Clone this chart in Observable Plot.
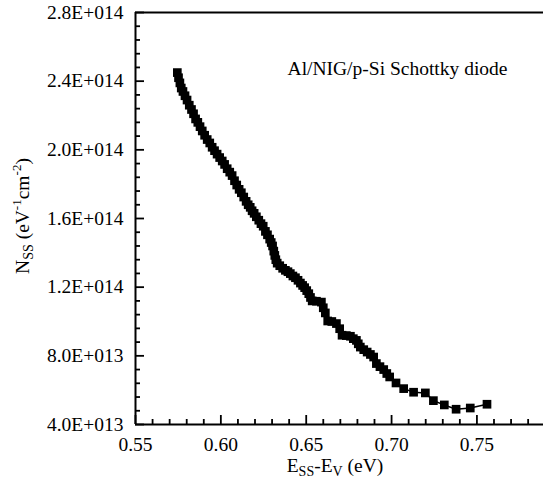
<!DOCTYPE html>
<html>
<head>
<meta charset="utf-8">
<script src="https://cdn.jsdelivr.net/npm/d3@7"></script>
<script src="https://cdn.jsdelivr.net/npm/@observablehq/plot@0.6"></script>
<style>
  body { margin: 0; background: #fff; }
  #chart svg { display: block; }
  #chart svg text { font-family: 'Liberation Serif', 'Times New Roman', serif; }
</style>
</head>
<body>
<div id="chart"></div>
<script>
// Energy E_SS - E_V (eV)
const energy = [
  0.5745, 0.5752, 0.5760, 0.5768, 0.5778, 0.5790, 0.5802, 0.5815, 0.5828, 0.5840,
  0.5852, 0.5865, 0.5878, 0.5891, 0.5905, 0.5920, 0.5935, 0.5949, 0.5963, 0.5978,
  0.5993, 0.6008, 0.6022, 0.6037, 0.6052, 0.6066, 0.6080, 0.6093, 0.6107, 0.6120,
  0.6134, 0.6148, 0.6160, 0.6172, 0.6183, 0.6195, 0.6208, 0.6222, 0.6235, 0.6248,
  0.6261, 0.6273, 0.6286, 0.6295, 0.6303, 0.6310, 0.6316, 0.6322, 0.6330, 0.6345,
  0.6362, 0.6378, 0.6393, 0.6407, 0.6422, 0.6437, 0.6452, 0.6466, 0.6479, 0.6491,
  0.6503, 0.6515, 0.6525, 0.6535, 0.6560, 0.6589, 0.6600, 0.6612, 0.6626, 0.6650,
  0.6677, 0.6696, 0.6710, 0.6735, 0.6759, 0.6776, 0.6794, 0.6805, 0.6817, 0.6837,
  0.6857, 0.6876, 0.6895, 0.6911, 0.6932, 0.6954, 0.6972, 0.6989, 0.7026, 0.7071,
  0.7129, 0.7198, 0.7245, 0.7309, 0.7378, 0.7461, 0.7559
];
// Interface state density N_SS (eV^-1 cm^-2), in units of 1e14
const nssE14 = [
  2.450, 2.420, 2.390, 2.360, 2.340, 2.315, 2.290, 2.260, 2.235, 2.210,
  2.180, 2.160, 2.135, 2.110, 2.085, 2.060, 2.040, 2.015, 1.995, 1.975,
  1.955, 1.935, 1.915, 1.890, 1.870, 1.850, 1.820, 1.795, 1.770, 1.750,
  1.725, 1.700, 1.680, 1.665, 1.645, 1.630, 1.610, 1.590, 1.570, 1.555,
  1.525, 1.505, 1.480, 1.460, 1.440, 1.410, 1.385, 1.360, 1.340, 1.325,
  1.310, 1.298, 1.290, 1.279, 1.265, 1.255, 1.240, 1.224, 1.210, 1.197,
  1.180, 1.162, 1.140, 1.120, 1.118, 1.113, 1.080, 1.050, 1.003, 1.000,
  0.988, 0.958, 0.920, 0.918, 0.914, 0.900, 0.890, 0.870, 0.851, 0.836,
  0.822, 0.808, 0.793, 0.755, 0.737, 0.720, 0.697, 0.677, 0.642, 0.609,
  0.588, 0.584, 0.539, 0.514, 0.489, 0.496, 0.518
];
const xMajorTicks = [0.55, 0.60, 0.65, 0.70, 0.75];
const xMinorTicks = [0.56, 0.57, 0.58, 0.59, 0.61, 0.62, 0.63, 0.64, 0.66, 0.67, 0.68, 0.69, 0.71, 0.72, 0.73, 0.74, 0.76, 0.77, 0.78];
const yMajorTicks = [4e13, 8e13, 1.2e14, 1.6e14, 2.0e14, 2.4e14, 2.8e14];
const yMinorTicks = [4.8e13, 5.6e13, 6.4e13, 7.2e13, 8.8e13, 9.6e13, 1.04e14, 1.12e14,
  1.28e14, 1.36e14, 1.44e14, 1.52e14, 1.68e14, 1.76e14, 1.84e14, 1.92e14,
  2.08e14, 2.16e14, 2.24e14, 2.32e14, 2.48e14, 2.56e14, 2.64e14, 2.72e14];
const annotation = ["Al/NIG/p-Si Schottky diode"];

const data = energy.map((e, i) => ({ e, n: nssE14[i] * 1e14 }));

function sciFmt(d) {
  const ex = Math.floor(Math.log10(d) + 1e-9);
  const m = d / Math.pow(10, ex);
  return m.toFixed(1) + "E+" + String(ex).padStart(3, "0");
}
const noText = () => "";

const font = "'Liberation Serif', 'Times New Roman', serif";
const fs = 19.5;
const fsSub = 14;

const plot = Plot.plot({
  width: 543,
  height: 483,
  marginLeft: 135,
  marginRight: 0,
  marginTop: 12,
  marginBottom: 59,
  style: { fontFamily: font, fontSize: fs + "px", color: "#000", background: "#fff", overflow: "visible" },
  x: { domain: [0.55, 0.789], label: null },
  y: { domain: [4e13, 2.8e14], label: null },
  marks: [
    Plot.line(data, { x: "e", y: "n", stroke: "#000", strokeWidth: 1.5 }),
    Plot.dot(data, { x: "e", y: "n", symbol: "square", r: 4.9, fill: "#000", stroke: "none" }),
    Plot.axisX({ ticks: xMajorTicks, tickSize: -9, tickFormat: noText, strokeWidth: 1.8 }),
    Plot.axisX({ ticks: xMinorTicks, tickSize: -5, tickFormat: noText, strokeWidth: 1.8 }),
    Plot.axisX({ ticks: xMajorTicks, tickSize: 0, tickPadding: 13, tickFormat: d3.format(".2f"), fontSize: fs, fill: "#000" }),
    Plot.axisY({ ticks: yMajorTicks, tickSize: -9, tickFormat: noText, strokeWidth: 1.8 }),
    Plot.axisY({ ticks: yMinorTicks, tickSize: -5, tickFormat: noText, strokeWidth: 1.8 }),
    Plot.axisY({ ticks: yMajorTicks, tickSize: 0, tickPadding: 12, tickFormat: sciFmt, fontSize: fs, fill: "#000" }),
    Plot.ruleY([4e13], { stroke: "#000", strokeWidth: 2 }),
    Plot.ruleY([2.8e14], { stroke: "#000", strokeWidth: 2 }),
    Plot.ruleX([0.55], { stroke: "#000", strokeWidth: 2 }),
    Plot.text(annotation, { frameAnchor: "top", dx: 58, dy: 49, fontSize: fs, fill: "#000" })
  ]
});

document.getElementById("chart").appendChild(plot);

// remove empty tick-text placeholders
d3.select(plot).selectAll("text").filter(function () { return this.textContent === ""; }).remove();

// Axis titles with sub/superscripts
const svg = d3.select(plot);
const xl = svg.append("text")
  .attr("x", 335).attr("y", 472)
  .attr("text-anchor", "middle")
  .style("font-size", fs + "px").attr("fill", "#000");
xl.append("tspan").text("E");
xl.append("tspan").style("font-size", fsSub + "px").attr("dy", 4).text("SS");
xl.append("tspan").attr("dy", -4).text("-E");
xl.append("tspan").style("font-size", fsSub + "px").attr("dy", 4).text("V");
xl.append("tspan").attr("dy", -4).text(" (eV)");

const yl = svg.append("text")
  .attr("transform", "translate(29,216) rotate(-90)")
  .attr("text-anchor", "middle")
  .style("font-size", fs + "px").attr("fill", "#000");
yl.append("tspan").text("N");
yl.append("tspan").style("font-size", fsSub + "px").attr("dy", 4).text("SS");
yl.append("tspan").attr("dy", -4).text(" (eV");
yl.append("tspan").style("font-size", "13px").attr("dy", -8).text("-1");
yl.append("tspan").attr("dy", 8).text("cm");
yl.append("tspan").style("font-size", "13px").attr("dy", -8).text("-2");
yl.append("tspan").attr("dy", 8).text(")");
</script>
</body>
</html>
